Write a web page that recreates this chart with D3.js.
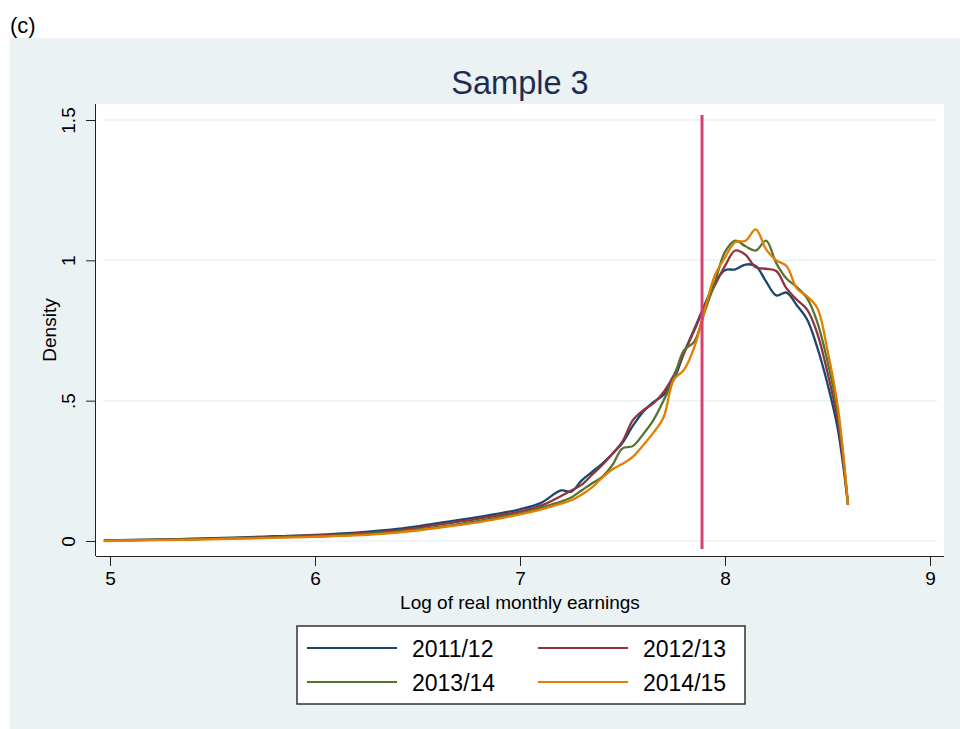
<!DOCTYPE html>
<html><head><meta charset="utf-8">
<script src="https://cdn.jsdelivr.net/npm/d3@7/dist/d3.min.js"></script>
<style>body{margin:0;background:#fff}svg{display:block;font-family:Arial,"Liberation Sans",Helvetica,sans-serif}</style>
</head><body><svg id="c" width="960" height="729"></svg>
<script>
const xGrid = [4.97,5.2,5.4,5.6,5.8,6.0,6.2,6.4,6.6,6.8,7.0,7.1,7.2,7.25,7.3,7.35,7.4,7.45,7.5,7.55,7.6,7.65,7.7,7.75,7.8,7.85,7.9,7.95,8.0,8.05,8.1,8.15,8.2,8.25,8.3,8.35,8.4,8.45,8.5,8.55,8.6];
const y2011 = [0.002,0.005,0.008,0.012,0.017,0.022,0.030,0.043,0.064,0.086,0.113,0.135,0.180,0.176,0.215,0.245,0.275,0.310,0.350,0.410,0.460,0.495,0.520,0.575,0.670,0.755,0.840,0.920,0.965,0.968,0.985,0.980,0.925,0.875,0.885,0.840,0.790,0.690,0.560,0.400,0.130];
const y2012 = [0.002,0.004,0.007,0.010,0.015,0.020,0.027,0.038,0.058,0.080,0.105,0.125,0.160,0.180,0.200,0.235,0.270,0.310,0.355,0.430,0.465,0.490,0.530,0.590,0.670,0.750,0.835,0.910,0.980,1.035,1.020,0.975,0.970,0.962,0.900,0.860,0.825,0.740,0.600,0.430,0.130];
const y2013 = [0.002,0.004,0.006,0.009,0.013,0.017,0.023,0.033,0.050,0.072,0.098,0.118,0.140,0.155,0.180,0.205,0.228,0.270,0.330,0.338,0.380,0.430,0.500,0.580,0.680,0.710,0.815,0.920,1.030,1.070,1.050,1.035,1.070,0.990,0.935,0.905,0.865,0.780,0.640,0.460,0.130];
const y2014 = [0.000,0.003,0.005,0.008,0.011,0.015,0.020,0.030,0.047,0.067,0.095,0.112,0.133,0.145,0.165,0.190,0.225,0.255,0.275,0.300,0.340,0.385,0.440,0.575,0.610,0.690,0.820,0.945,1.010,1.065,1.070,1.110,1.040,1.000,0.980,0.900,0.872,0.830,0.680,0.480,0.130];
const seriesNames = ["2011/12","2012/13","2013/14","2014/15"];
const seriesValues = [y2011,y2012,y2013,y2014];
const colors = ["#1a476f","#90353b","#55752f","#e37e00"];
const xTicks = [5,6,7,8,9];
const yTicks = [0,0.5,1,1.5];
const yTickLabels = ["0",".5","1","1.5"];
const cutoff = 7.888;

const svg = d3.select("#c");
svg.append("rect").attr("x",0).attr("y",0).attr("width",960).attr("height",729).attr("fill","#fff");
svg.append("text").attr("x",10).attr("y",33).attr("font-size",22).attr("fill","#000").text("(c)");
svg.append("rect").attr("x",10).attr("y",38).attr("width",950).attr("height",691).attr("fill","#eaf2f3");
// plot region
const L=96,R=944,T=104,B=556;
svg.append("rect").attr("x",L).attr("y",T).attr("width",R-L).attr("height",B-T).attr("fill","#fff");

const x = d3.scaleLinear().domain([5,9]).range([110,930]);
const y = d3.scaleLinear().domain([0,1.5]).range([541,120]);

// gridlines
svg.append("g").selectAll("line").data(yTicks).join("line")
  .attr("x1",103).attr("x2",937).attr("y1",d=>y(d)).attr("y2",d=>y(d))
  .attr("stroke","#eaf2f3").attr("stroke-width",1.5);

// title
svg.append("text").attr("x",520).attr("y",94).attr("text-anchor","middle")
  .attr("font-size",32.5).attr("fill","#1e2c53").text("Sample 3");

// axes
const gx = svg.append("g").attr("transform",`translate(0,${B})`)
  .call(d3.axisBottom(x).tickValues(xTicks).tickSize(10).tickSizeOuter(0).tickPadding(6).tickFormat(d3.format("d")));
gx.select(".domain").attr("d",`M${L},0.5H${R}`).attr("stroke","#222");
gx.selectAll(".tick line").attr("stroke","#222");
gx.selectAll("text").attr("font-size",19).attr("font-family","Arial,'Liberation Sans',sans-serif").attr("fill","#000");

const gy = svg.append("g").attr("transform",`translate(${L},0)`)
  .call(d3.axisLeft(y).tickValues(yTicks).tickSize(10).tickSizeOuter(0).tickFormat((d,i)=>yTickLabels[i]));
gy.select(".domain").attr("d",`M-0.5,${T}V${B}`).attr("stroke","#222");
gy.selectAll(".tick line").attr("stroke","#222");
gy.selectAll("text").attr("font-size",19).attr("font-family","Arial,'Liberation Sans',sans-serif").attr("fill","#000")
  .attr("x",0).attr("dy",0).attr("text-anchor","middle")
  .attr("transform","translate(-21,0) rotate(-90)");

svg.append("text").attr("transform","translate(56,330) rotate(-90)").attr("text-anchor","middle")
  .attr("font-size",19).attr("fill","#000").text("Density");
svg.append("text").attr("x",520).attr("y",609).attr("text-anchor","middle")
  .attr("font-size",19).attr("fill","#000").text("Log of real monthly earnings");

// curves
const line = d3.line().x((d,i)=>x(xGrid[i])).y(d=>y(d)).curve(d3.curveCatmullRom.alpha(0.5));
svg.append("g").selectAll("path").data(seriesValues).join("path")
  .attr("d",d=>line(d)).attr("fill","none").attr("stroke",(d,i)=>colors[i])
  .attr("stroke-width",2.3).attr("stroke-linejoin","round");

// cutoff line
svg.append("line").attr("x1",x(cutoff)).attr("x2",x(cutoff)).attr("y1",115).attr("y2",549)
  .attr("stroke","#d9426f").attr("stroke-width",3);

// legend
const lg = svg.append("g");
lg.append("rect").attr("x",297).attr("y",626).attr("width",448).attr("height",78)
  .attr("fill","#fff").attr("stroke","#333").attr("stroke-width",1.5);
const pos = [[307,648,412],[538,648,643],[307,682,412],[538,682,643]];
seriesNames.forEach((n,i)=>{
  const p=pos[i];
  lg.append("line").attr("x1",p[0]).attr("x2",p[0]+90).attr("y1",p[1]).attr("y2",p[1])
    .attr("stroke",colors[i]).attr("stroke-width",2);
  lg.append("text").attr("x",p[2]).attr("y",p[1]+9).attr("font-size",23).attr("fill","#000").text(n);
});
</script></body></html>
